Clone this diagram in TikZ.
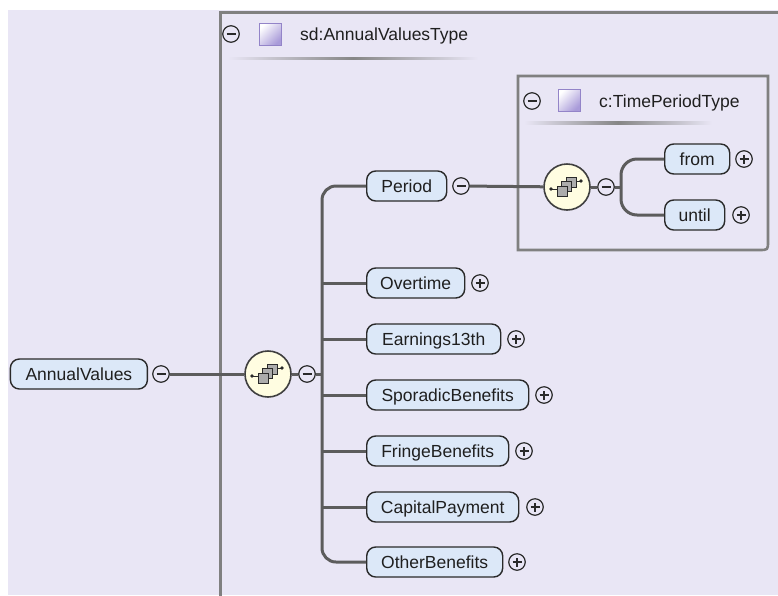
\documentclass[tikz,border=0pt]{standalone}
\usepackage{fontspec}
\setmainfont{Liberation Sans}
\definecolor{bg}{HTML}{E9E6F5}
\definecolor{elfill}{HTML}{DCE8F8}
\definecolor{seqfill}{HTML}{FFFDE1}
\definecolor{wirec}{HTML}{5C5C5C}
\definecolor{framec}{HTML}{808080}
\definecolor{symc}{HTML}{2A2A2A}
\definecolor{sqfill}{HTML}{A99BD9}
\definecolor{sqborder}{HTML}{9384C8}
\tikzset{
  lbl/.style={font=\fontsize{17.5}{20}\selectfont, text=black!88},
  el/.style={lbl, draw=symc, line width=1.4pt, fill=elfill, rounded corners=9pt,
    minimum height=30pt, inner sep=0pt, text height=12.5pt, text depth=0pt, anchor=west},
  wire/.style={draw=wirec, line width=3pt},
  frameline/.style={draw=framec, line width=2.6pt},
  seqc/.style={circle, draw=symc!90, line width=1.6pt, fill=seqfill, minimum size=46pt, inner sep=0pt},
  minus/.style={circle, draw=symc, line width=1.2pt, minimum size=16.5pt, inner sep=0pt,
    path picture={\draw[symc, line width=1.2pt] ([xshift=-4.5pt]path picture bounding box.center) -- ([xshift=4.5pt]path picture bounding box.center);}},
  plus/.style={circle, draw=symc, line width=1.2pt, minimum size=16.5pt, inner sep=0pt,
    path picture={\draw[symc, line width=1.2pt] ([xshift=-4.5pt]path picture bounding box.center) -- ([xshift=4.5pt]path picture bounding box.center);
      \draw[symc, line width=1.2pt] ([yshift=-4.5pt]path picture bounding box.center) -- ([yshift=4.5pt]path picture bounding box.center);}},
  seqicon/.pic={
    \draw[symc, line width=1pt] (-16,2) -- (-10,2);
    \fill[symc] (-16,2) circle (1.8pt);
    \draw[symc, line width=1pt] (9,-6) -- (14,-6);
    \fill[symc] (14,-6) circle (1.8pt);
    \foreach \dx/\dy in {4/-5, -0.5/-0.5, -5/4} {
      \draw[fill=gray!65, draw=symc, line width=0.8pt] (\dx-5,\dy-5) rectangle (\dx+5,\dy+5);
    }
  },
  typeicon/.style={shading=axis, left color=white, right color=sqfill, shading angle=45, draw=sqborder, line width=1pt}
}
\begin{document}
\begin{tikzpicture}[x=1pt, y=-1pt]
\useasboundingbox (0,0) rectangle (778,595);
\fill[white] (0,0) rectangle (778,595);
\fill[bg] (8,10) rectangle (778,595);

% outer type frame
\draw[frameline, line width=3pt] (779,12) -- (220,12) -- (220,596);
\node[minus] (hdrMinusA) at (231,34) {};
\shadedraw[typeicon] (259,23) rectangle (281,45);
\node[lbl, anchor=west, inner sep=0pt, text height=12.5pt, text depth=0pt] (titleA) at (300,34) {sd:AnnualValuesType};
\shade[left color=bg, right color=bg, middle color=gray!95] (228,57.3) rectangle (478,59.7);

% inner type frame
\draw[frameline] (518,76) -- (768,76) -- (768,241) .. controls (768,250) .. (759,250) -- (518,250) -- cycle;
\node[minus] (hdrMinusB) at (532,101) {};
\shadedraw[typeicon] (558,89) rectangle (580,111);
\node[lbl, anchor=west, inner sep=0pt, text height=12.5pt, text depth=0pt] (titleB) at (599,101) {c:TimePeriodType};
\shade[left color=bg, right color=bg, middle color=gray!95] (524,121.8) rectangle (712,124.2);

% root element
\node[el, minimum width=137pt] (annual) at (9.7,374) {AnnualValues};
\node[minus] (annualMinus) at (161,374) {};
\node[seqc] (mainSeq) at (268,374) {};
\pic at (mainSeq.center) {seqicon};
\node[minus] (mainMinus) at (307,374) {};
\draw[wire] (annualMinus) -- (mainSeq);
\draw[wire] (mainSeq) -- (mainMinus);

% children
\node[el, minimum width=80pt]  (period)   at (366,186) {Period};
\node[el, minimum width=98pt]  (overtime) at (366,283) {Overtime};
\node[el, minimum width=134pt] (earn)     at (366,339) {Earnings13th};
\node[el, minimum width=162pt] (sporadic) at (366,395) {SporadicBenefits};
\node[el, minimum width=142pt] (fringe)   at (366,451) {FringeBenefits};
\node[el, minimum width=152pt] (capital)  at (366,507) {CapitalPayment};
\node[el, minimum width=136pt] (other)    at (366,562) {OtherBenefits};

\node[minus] (periodMinus) at (461,186) {};
\node[plus] (overtimePlus) at (480,283) {};
\node[plus] (earnPlus)     at (516,339) {};
\node[plus] (sporadicPlus) at (544,395) {};
\node[plus] (fringePlus)   at (524,451) {};
\node[plus] (capitalPlus)  at (535,507) {};
\node[plus] (otherPlus)    at (517,562) {};

\coordinate (busTop) at (322,186);
\coordinate (busBot) at (322,562);
\draw[wire, rounded corners=14pt] (period.west) -- (busTop) -- (busBot) -- (other.west);
\draw[wire] (mainMinus) -- (mainMinus -| busTop);
\foreach \n in {overtime, earn, sporadic, fringe, capital}
  \draw[wire] (\n.west) -- (\n.west -| busTop);

% inner sequence
\node[seqc] (innerSeq) at (567,187) {};
\pic at (innerSeq.center) {seqicon};
\node[minus] (innerMinus) at (606,187) {};
\draw[wire] (periodMinus) -- (innerSeq);
\draw[wire] (innerSeq) -- (innerMinus);

\node[el, minimum width=65pt] (from)  at (664,159) {from};
\node[el, minimum width=60pt] (until) at (664,215) {until};
\node[plus] (fromPlus)  at (744,159) {};
\node[plus] (untilPlus) at (741,215) {};

\coordinate (ibTop) at (621,159);
\coordinate (ibBot) at (621,215);
\draw[wire, rounded corners=16pt] (from.west) -- (ibTop) -- (ibBot) -- (until.west);
\draw[wire] (innerMinus) -- (innerMinus -| ibTop);
\end{tikzpicture}
\end{document}
